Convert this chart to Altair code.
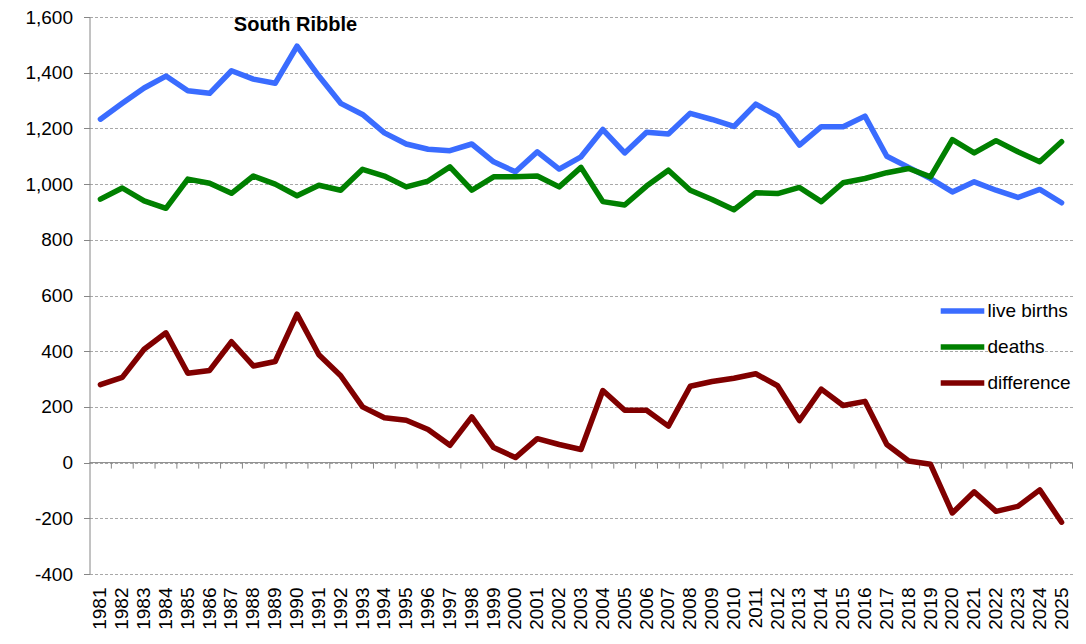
import pandas as pd
import altair as alt

# Years on the category axis
years = [str(y) for y in range(1981, 2026)]

# Values
live_births = [1233, 1290, 1345, 1388, 1335, 1326, 1407, 1377, 1362, 1495,
               1388, 1290, 1250, 1184, 1144, 1125, 1120, 1144, 1080, 1044,
               1116, 1054, 1098, 1196, 1112, 1186, 1180, 1254, 1232, 1207,
               1287, 1244, 1140, 1206, 1206, 1244, 1100, 1060, 1020, 972,
               1008, 978, 952, 981, 933]
deaths = [946, 986, 940, 913, 1018, 1003, 967, 1029, 1000, 958,
          996, 978, 1053, 1029, 990, 1011, 1062, 978, 1026, 1026,
          1029, 990, 1060, 937, 925, 993, 1050, 978, 945, 908,
          969, 966, 988, 937, 1005, 1020, 1041, 1056, 1026, 1160,
          1112, 1156, 1116, 1080, 1152]
difference = [280, 306, 407, 466, 321, 331, 434, 347, 363, 533,
              387, 312, 200, 161, 152, 119, 62, 164, 54, 18,
              86, 65, 47, 259, 188, 188, 131, 274, 291, 303,
              319, 276, 151, 264, 205, 220, 65, 6, -6, -181,
              -105, -175, -157, -98, -214]

series_names = ["live births", "deaths", "difference"]
series_colors = ["#3a6cff", "#008000", "#800000"]
y_ticks = [-400, -200, 0, 200, 400, 600, 800, 1000, 1200, 1400, 1600]
chart_title = ["South Ribble"]

rows = []
for name, values in zip(series_names, [live_births, deaths, difference]):
    for year, v in zip(years, values):
        rows.append({"year": year, "series": name, "value": v})
df = pd.DataFrame(rows)

FONT = "Liberation Sans"
AXIS_GREY = "#868686"

x_scale = alt.Scale(type="band", domain=years, paddingInner=0, paddingOuter=0)
y_scale = alt.Scale(domain=[-400, 1600], nice=False, zero=False)

x_axis = alt.Axis(
    title=None, ticks=False, domain=False, grid=False,
    labelAngle=-90, labelAlign="right", labelBaseline="middle",
    labelPadding=13, labelFontSize=19, labelFont=FONT, labelColor="black"
)
y_axis = alt.Axis(
    title=None, values=y_ticks, format=",.0f",
    labelExpr="replace(datum.label, '\u2212', '-')",
    labelFontSize=19, labelFont=FONT, labelColor="black", labelPadding=11,
    domainColor=AXIS_GREY, tickColor=AXIS_GREY, tickSize=6,
    grid=True, gridColor="#a8a8a8", gridDash=[3, 2], gridWidth=1
)

# Axis line at zero
zero_line = (
    alt.Chart(pd.DataFrame({"zero": [0]}))
    .mark_rule(color=AXIS_GREY, strokeWidth=1)
    .encode(y=alt.Y("zero:Q", scale=y_scale, axis=y_axis))
)

# Tick marks between the years, hanging below the zero line
ticks = (
    alt.Chart(pd.DataFrame({"year": years}))
    .mark_rule(color=AXIS_GREY, strokeWidth=1, y2Offset=6)
    .encode(
        x=alt.X("year:O", scale=x_scale, axis=x_axis, bandPosition=1),
        y=alt.datum(0),
        y2=alt.datum(0)
    )
)

lines = (
    alt.Chart(df)
    .mark_line(strokeWidth=5.5, strokeJoin="round", strokeCap="round")
    .encode(
        x=alt.X("year:O", scale=x_scale, axis=x_axis, bandPosition=0.5),
        y=alt.Y("value:Q", scale=y_scale, axis=y_axis),
        color=alt.Color(
            "series:N",
            title=None,
            scale=alt.Scale(domain=series_names, range=series_colors),
            legend=alt.Legend(
                orient="none", legendX=848, legendY=269,
                symbolType="stroke", symbolStrokeWidth=5.5, symbolSize=1900,
                labelFontSize=19, labelFont=FONT, labelColor="black",
                labelOffset=0, rowPadding=0
            )
        )
    )
)

# Chart title sits inside the plot area
title = (
    alt.Chart(pd.DataFrame({"label": chart_title}))
    .mark_text(font=FONT, fontSize=20, fontWeight="bold", color="black",
               align="center", baseline="alphabetic")
    .encode(text="label:N", x=alt.value(206), y=alt.value(14))
)

chart = (
    alt.layer(zero_line, ticks, lines, title)
    .properties(
        width=983,
        height=557,
        padding={"left": 81.5, "top": 9, "right": 5, "bottom": 62},
        autosize=alt.AutoSizeParams(type="none")
    )
    .configure_view(stroke=None)
)

chart.save("out.html", embed_options={"renderer": "svg", "actions": False})
